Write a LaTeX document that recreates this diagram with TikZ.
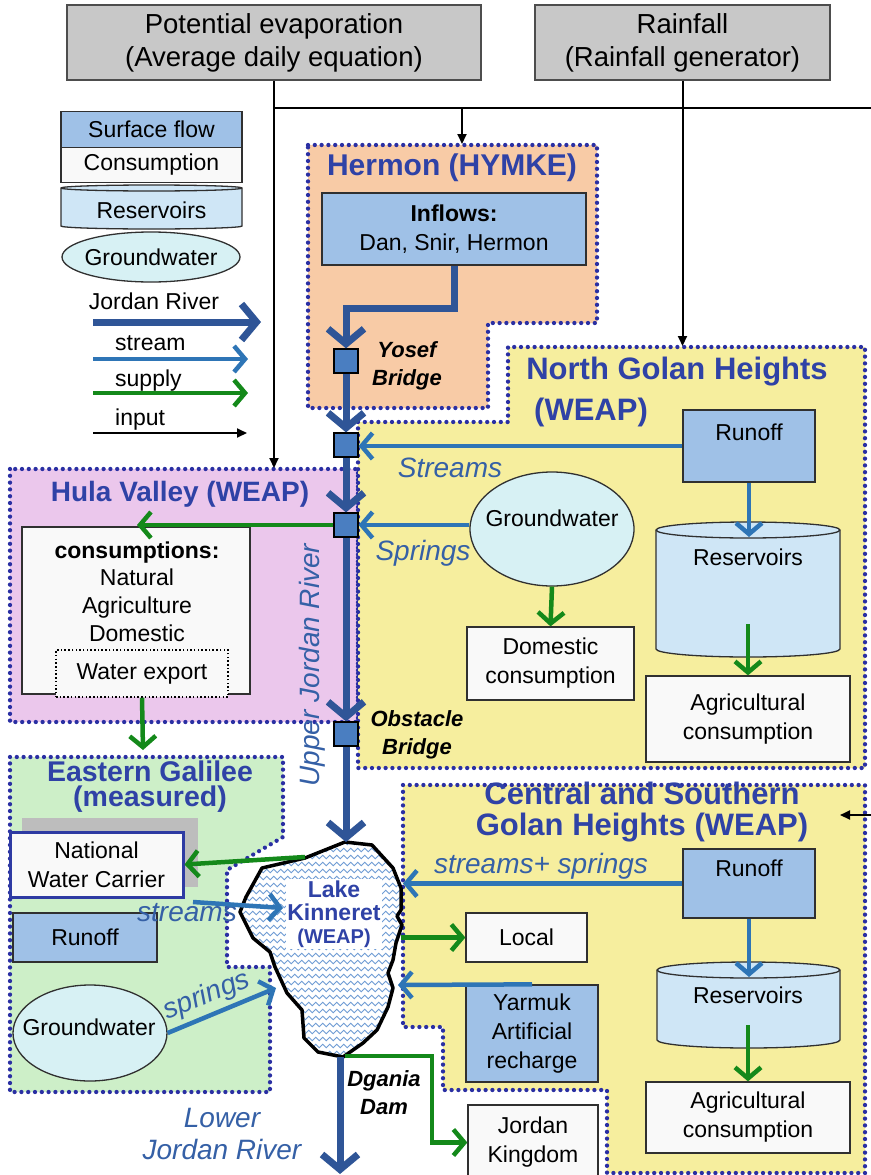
\documentclass[tikz,border=0pt]{standalone}
\usepackage{fontspec}
\setmainfont{Liberation Sans}
\usetikzlibrary{arrows.meta,decorations.pathmorphing,shapes.geometric,calc}
\definecolor{grayfill}{HTML}{C8C8C8}
\definecolor{grayline}{HTML}{4D4D4D}
\definecolor{boxline}{HTML}{303030}
\definecolor{sflow}{HTML}{9FC1E7}
\definecolor{cons}{HTML}{F9F9F9}
\definecolor{resfill}{HTML}{CFE6F6}
\definecolor{gwfill}{HTML}{D7F1F4}
\definecolor{peach}{HTML}{F8CBA6}
\definecolor{yell}{HTML}{F6EE9E}
\definecolor{hulapink}{HTML}{EBC7EC}
\definecolor{lgreen}{HTML}{CDEFC8}
\definecolor{dotblue}{HTML}{2A2FA3}
\definecolor{titleblue}{HTML}{2F42A6}
\definecolor{jordanc}{HTML}{2F5597}
\definecolor{streamc}{HTML}{2E75B6}
\definecolor{supplyc}{HTML}{14891A}
\definecolor{sqblue}{HTML}{4A7EC1}
\definecolor{italblue}{HTML}{3560A6}
\definecolor{wavec}{HTML}{6F9CD4}
\definecolor{nwcblue}{HTML}{2E3BA3}
\definecolor{shadowgray}{HTML}{BDBDBD}
\newcommand{\bodyf}{\fontsize{23}{29}\selectfont}
\newcommand{\listf}{\fontsize{23}{27.7}\selectfont}
\newcommand{\topf}{\fontsize{27.5}{33}\selectfont}
\newcommand{\titlef}{\fontsize{29}{31}\selectfont\bfseries}
\newcommand{\titlebig}{\fontsize{31}{31}\selectfont\bfseries}
\newcommand{\egf}{\fontsize{28.5}{25}\selectfont\bfseries}
\newcommand{\itf}{\fontsize{28}{32}\selectfont\itshape}
\newcommand{\brf}{\fontsize{22}{28}\selectfont\bfseries\itshape}
\newcommand{\lakef}{\fontsize{23}{23}\selectfont\bfseries}
\def\lakepath{(345,842) -- (372,845) -- (393,868) -- (401,888) -- (401,910) -- (397,916) -- (402,925) -- (396,943) -- (393,960) -- (388,973) -- (393,988) -- (388,1007) -- (377,1030) -- (363,1043) -- (343,1057) -- (318,1052) -- (304,1038) -- (302,1010) -- (287,993) -- (275,967) -- (270,952) -- (253,938) -- (240,912) -- (246,897) -- (262,868) -- (305,858) -- cycle}
\begin{document}
\begin{tikzpicture}[x=1pt,y=-1pt,
  reg/.style={draw=dotblue, line width=4.3pt, dash pattern=on 0pt off 6.8pt, line cap=round},
  gbox/.style={draw=grayline, line width=1.5pt, fill=grayfill, align=center, inner sep=0pt, font=\topf},
  bbox/.style={draw=boxline, line width=1.3pt, fill=sflow, align=center, inner sep=0pt, font=\bodyf},
  wbox/.style={draw=boxline, line width=1.3pt, fill=cons, align=center, inner sep=0pt, font=\bodyf},
  gwel/.style={ellipse, draw=boxline, line width=1.3pt, fill=gwfill, inner sep=0pt, font=\bodyf},
  sqn/.style={draw=black, line width=1.2pt, fill=sqblue, minimum size=24pt, inner sep=0pt},
  txt/.style={inner sep=0pt, font=\bodyf, align=center},
  ttl/.style={inner sep=0pt, font=\titlef, text=titleblue, align=center},
  itl/.style={inner sep=0pt, font=\itf, text=italblue, align=center},
  brl/.style={inner sep=0pt, font=\brf, align=center},
  jr/.style={draw=jordanc, line width=7pt, -{Straight Barb[length=15pt,width=36pt]}},
  st/.style={draw=streamc, line width=4.5pt, -{Straight Barb[length=11pt,width=26pt]}},
  su/.style={draw=supplyc, line width=4.5pt, -{Straight Barb[length=11pt,width=26pt]}},
  inp/.style={draw=black, line width=2pt, -{Triangle[length=10pt,width=9pt]}},
  cyl/.style={fill=resfill, draw=boxline, line width=1.3pt}
]
\fill[white] (0,0) rectangle (870,1175);
\useasboundingbox (0,0) rectangle (870,1175);

% regions
\path[reg, fill=hulapink] (10,469) rectangle (358,722);
\path[reg, fill=peach] (308,145) -- (597,145) -- (597,323) -- (488,323) -- (488,408) -- (308,408) -- cycle;
\path[reg, fill=yell] (358,422) -- (508,422) -- (508,347) -- (865,347) -- (865,768) -- (358,768) -- cycle;
\path[reg, fill=lgreen] (10,757) -- (283,757) -- (283,837) -- (227,870) -- (227,967) -- (270,967) -- (270,1092) -- (10,1092) -- cycle;
\path[reg, fill=yell] (403,785) -- (865,785) -- (865,1173) -- (607,1173) -- (607,1090) -- (443,1090) -- (443,1027) -- (403,1027) -- cycle;

% top boxes and inputs
\node[gbox, minimum width=414pt, minimum height=75pt] (pe) at (274,42.5) {Potential evaporation\\(Average daily equation)};
\node[gbox, minimum width=295pt, minimum height=75pt] (rain) at (682.5,42.5) {Rainfall\\(Rainfall generator)};
\coordinate (j1) at (274,108);
\coordinate (j2) at (462,108);
\coordinate (rEdge) at (872,108);
\coordinate (hulaTop) at (274,468);
\coordinate (hermTop) at (462,144);
\coordinate (ngTop) at (682.5,346);
\draw[line width=2pt] (j1) -- (rEdge);
\draw[inp] (pe.south) -- (hulaTop);
\draw[inp] (j2) -- (hermTop);
\draw[inp] (rain.south) -- (ngTop);
\coordinate (rIn) at (872,815);
\coordinate (cgIn) at (840,815);
\draw[inp] (rIn) -- (cgIn);

% legend
\node[bbox, minimum width=181pt, minimum height=36pt] (lgSF) at (151.5,129.5) {Surface flow};
\node[wbox, minimum width=181pt, minimum height=35pt] (lgC) at (151.5,165) {Consumption};
\path[cyl] (61,188) -- (61,226) arc[start angle=180,end angle=360,x radius=90.5pt,y radius=3pt] -- (242,188) arc[start angle=0,end angle=180,x radius=90.5pt,y radius=3pt] -- cycle;
\draw[boxline, line width=1.3pt] (61,188) arc[start angle=180,end angle=360,x radius=90.5pt,y radius=3pt];
\node[txt] (lgR) at (151.5,210) {Reservoirs};
\node[gwel, minimum width=178pt, minimum height=50pt] (lgG) at (151,257) {};
\node[txt] (lgGt) at (151,257) {Groundwater};
\node[txt] (lgJ) at (154,301) {Jordan River};
\coordinate (lj1) at (93,322); \coordinate (lj2) at (261,322);
\draw[jr] (lj1) -- (lj2);
\node[txt, anchor=west] (lgS) at (115,343) {stream};
\coordinate (ls1) at (93,359); \coordinate (ls2) at (248,359);
\draw[st] (ls1) -- (ls2);
\node[txt, anchor=west] (lgU) at (115,381) {supply};
\coordinate (lu1) at (93,393); \coordinate (lu2) at (248,393);
\draw[su] (lu1) -- (lu2);
\node[txt, anchor=west] (lgI) at (115,420) {input};
\coordinate (li1) at (93,433); \coordinate (li2) at (247,433);
\draw[inp] (li1) -- (li2);

% Hermon
\node[ttl, font=\fontsize{30}{31}\selectfont\bfseries] (hermT) at (452,168) {Hermon (HYMKE)};
\node[bbox, minimum width=264pt, minimum height=72pt] (inflow) at (454,229) {\textbf{Inflows:}\\Dan, Snir, Hermon};
\node[brl] (yosef) at (407,366) {Yosef\\Bridge};

% squares on the river
\node[sqn] (sq1) at (346,361) {};
\node[sqn] (sq2) at (346,445) {};
\node[sqn] (sq3) at (346,525) {};
\node[sqn] (sq4) at (346,734) {};

% Hula Valley
\node[ttl, font=\fontsize{28}{31}\selectfont\bfseries] (hulaT) at (180,494) {Hula Valley (WEAP)};
\node[wbox, minimum width=228pt, minimum height=167pt] (hulaC) at (136,610.5) {};
\node[txt, font=\listf] (hulaL) at (137,591.5) {\textbf{consumptions:}\\Natural\\Agriculture\\Domestic};
\node[draw=black, line width=1.5pt, dash pattern=on 1.5pt off 2.2pt, fill=cons, minimum width=172pt, minimum height=47pt, inner sep=0pt, font=\bodyf] (wexp) at (142,673.5) {Water export};
\coordinate (hulaIn) at (137,526);
\coordinate (egTop) at (143,750);
\draw[su] (sq3.west) -- (sq3.west -| hulaIn);
\draw[su] (wexp.south) -- (egTop);
\node[itl, rotate=90] (upperJ) at (312,665) {Upper Jordan River};

% North Golan
\node[ttl, font=\titlebig] (ngT1) at (677,372) {North Golan Heights};
\node[ttl, font=\titlebig] (ngT2) at (591,412) {(WEAP)};
\node[bbox, minimum width=132pt, minimum height=72pt] (runN) at (749,446) {};
\node[txt] (runNt) at (749,432) {Runoff};
\node[itl] (streamsL) at (450,468) {Streams};
\node[gwel, minimum width=164pt, minimum height=114pt] (gwN) at (552,529) {};
\node[txt] (gwNt) at (552,518) {Groundwater};
\node[itl] (springsL) at (423,553) {Springs};
\node[wbox, minimum width=167pt, minimum height=73pt] (domN) at (550.5,663.5) {Domestic\\consumption};
\path[cyl] (656,530) -- (656,649) arc[start angle=180,end angle=360,x radius=92pt,y radius=8pt] -- (840,530) arc[start angle=0,end angle=180,x radius=92pt,y radius=8pt] -- cycle;
\draw[boxline, line width=1.3pt] (656,530) arc[start angle=180,end angle=360,x radius=92pt,y radius=8pt];
\node[txt] (resNt) at (748,557) {Reservoirs};
\coordinate (resNtop) at (749,537);
\coordinate (resNout) at (748,624);
\node[wbox, minimum width=204pt, minimum height=86pt] (agN) at (748,719) {Agricultural\\consumption};
\draw[st] (runN.west) -- (runN.west -| sq2.east);
\draw[st] (gwN.west |- sq3.east) -- (sq3.east);
\draw[su] (gwN.south) -- (domN.north);
\draw[st] (runN.south) -- (resNtop);
\draw[su] (resNout) -- (agN.north);
\node[brl] (obst) at (417,735) {Obstacle\\Bridge};

% Eastern Galilee
\node[ttl, font=\egf] (egT) at (150,786.5) {Eastern Galilee\\(measured)};
\fill[shadowgray] (22,818) rectangle (198,887);
\node[draw=nwcblue, line width=3pt, fill=cons, minimum width=173pt, minimum height=65pt, inner sep=0pt, align=center, font=\bodyf] (nwc) at (96.5,864.5) {National\\Water Carrier};
\node[bbox, minimum width=144pt, minimum height=49pt] (runE) at (85,937.5) {Runoff};
\node[gwel, minimum width=154pt, minimum height=96pt] (gwE) at (90,1033) {};
\node[txt] (gwEt) at (89,1027) {Groundwater};
\node[itl] (streamsE) at (187,913) {streams};
\node[itl, rotate=22] (springsE) at (207,996) {springs};

% Central and Southern Golan
\node[ttl, font=\titlebig] (cgT) at (642,812.5) {Central and Southern\\Golan Heights (WEAP)};
\node[bbox, minimum width=132pt, minimum height=69pt] (runC) at (749,883.5) {};
\node[txt] (runCt) at (749,868) {Runoff};
\node[itl] (ssL) at (541,866) {streams+ springs};
\node[wbox, minimum width=121pt, minimum height=49pt] (local) at (526.5,937.5) {Local};
\node[bbox, minimum width=132pt, minimum height=97pt] (yarmuk) at (532,1033.5) {Yarmuk\\Artificial\\recharge};
\path[cyl] (657,970) -- (657,1040) arc[start angle=180,end angle=360,x radius=91.5pt,y radius=8pt] -- (840,970) arc[start angle=0,end angle=180,x radius=91.5pt,y radius=8pt] -- cycle;
\draw[boxline, line width=1.3pt] (657,970) arc[start angle=180,end angle=360,x radius=91.5pt,y radius=8pt];
\node[txt] (resCt) at (748,995) {Reservoirs};
\coordinate (resCtop) at (749,977);
\coordinate (resCout) at (748,1025);
\node[wbox, minimum width=204pt, minimum height=71pt] (agC) at (748,1117.5) {Agricultural\\consumption};
\draw[st] (runC.south) -- (resCtop);
\draw[su] (resCout) -- (agC.north);

% Jordan Kingdom
\node[wbox, minimum width=130pt, minimum height=75pt] (jk) at (533,1142.5) {Jordan\\Kingdom};

% Lake Kinneret
\fill[white] \lakepath;
\begin{scope}
\clip \lakepath;
\foreach \yy in {836,843,...,1062}
  \draw[wavec, line width=0.9pt, decorate, decoration={zigzag,segment length=7pt,amplitude=1.8pt}] (230,\yy) -- (410,\yy);
\end{scope}
\draw[black, line width=3.5pt, line join=round] \lakepath;
\node[ttl, font=\lakef, fill=white, inner sep=1.5pt] (lake) at (334,914) {Lake\\Kinneret\\{\fontsize{20}{22}\selectfont (WEAP)}};
\coordinate (lakeTop) at (346,842);
\coordinate (lakeNW) at (305,857);
\coordinate (lakeW) at (283,908);
\coordinate (lakeW2) at (276,988);
\coordinate (streamsStart) at (193,902);
\coordinate (lakeE1) at (403,883.5);
\coordinate (lakeE2) at (401,937.5);
\coordinate (lakeE3) at (398,985);
\coordinate (lakeS) at (340,1057);
\coordinate (lakeS2) at (345,1056);
\coordinate (lowerEnd) at (340,1174);

% river and lake connectors
\draw[jr] (inflow.south) -- ++(0,43) -| (sq1.north);
\draw[jr] (sq1.south) -- (sq2.north);
\draw[jr] (sq2.south) -- (sq3.north);
\draw[jr] (sq3.south) -- (sq4.north);
\draw[jr] (sq4.south) -- (lakeTop);
\draw[su] (lakeNW) -- (nwc.east);
\draw[st] (streamsStart) -- (lakeW);
\draw[st] (gwE.east) -- (lakeW2);
\draw[st] (runC.west) -- (lakeE1);
\draw[su] (lakeE2) -- (local.west);
\draw[st] (yarmuk.north) -- (lakeE3);
\draw[su] (lakeS2) -- ++(87,0) |- (jk.west);
\draw[jr] (lakeS) -- (lowerEnd);
\node[brl] (dgania) at (384,1093) {Dgania\\Dam};
\node[itl] (lowerJ) at (222,1134) {Lower\\Jordan River};
\end{tikzpicture}
\end{document}
